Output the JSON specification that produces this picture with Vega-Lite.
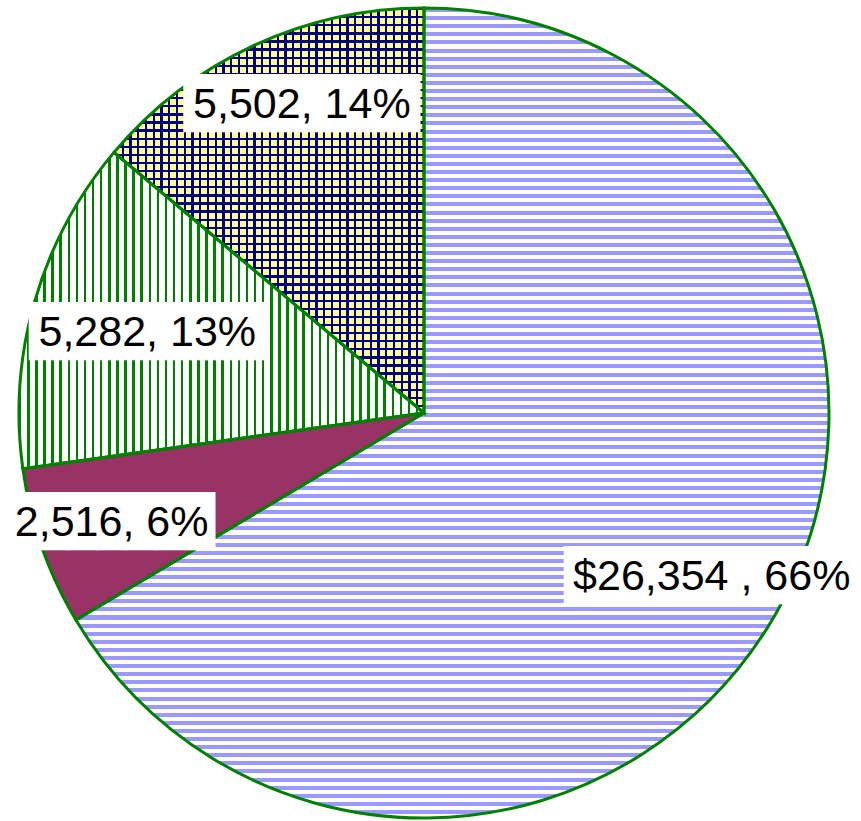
{
"$schema": "https://vega.github.io/schema/vega-lite/v6.json",
"width": 848,
"height": 816,
"padding": {"left": 0, "top": 5, "right": 13, "bottom": 0},
"autosize": {"type": "none"},
"background": "white",
"view": {"stroke": null},
"data": {"values": [
{"label": "$26,354 , 66%", "value": 26354, "rank": 1},
{"label": "2,516, 6%", "value": 2516, "rank": 2},
{"label": "5,282, 13%", "value": 5282, "rank": 3},
{"label": "5,502, 14%", "value": 5502, "rank": 4}
]},
"encoding": {
"theta": {"field": "value", "type": "quantitative", "stack": true},
"order": {"field": "rank", "type": "quantitative"}
},
"layer": [
{"mark": {"type": "arc", "outerRadius": 405, "strokeWidth": 0},
"encoding": {"fill": {"condition": [
{"test": "datum.rank===1", "value": {"gradient": "linear", "x1": 0, "y1": 0, "x2": 0, "y2": 1, "stops": [
{"offset":0,"color":"#99f"},{"offset":0.005,"color":"#99f"},{"offset":0.005,"color":"#fff"},{"offset":0.01,"color":"#fff"},
{"offset":0.01,"color":"#99f"},{"offset":0.015,"color":"#99f"},{"offset":0.015,"color":"#fff"},{"offset":0.02,"color":"#fff"},
{"offset":0.02,"color":"#99f"},{"offset":0.025,"color":"#99f"},{"offset":0.025,"color":"#fff"},{"offset":0.03,"color":"#fff"},
{"offset":0.03,"color":"#99f"},{"offset":0.035,"color":"#99f"},{"offset":0.035,"color":"#fff"},{"offset":0.04,"color":"#fff"},
{"offset":0.04,"color":"#99f"},{"offset":0.045,"color":"#99f"},{"offset":0.045,"color":"#fff"},{"offset":0.05,"color":"#fff"},
{"offset":0.05,"color":"#99f"},{"offset":0.055,"color":"#99f"},{"offset":0.055,"color":"#fff"},{"offset":0.06,"color":"#fff"},
{"offset":0.06,"color":"#99f"},{"offset":0.065,"color":"#99f"},{"offset":0.065,"color":"#fff"},{"offset":0.07,"color":"#fff"},
{"offset":0.07,"color":"#99f"},{"offset":0.075,"color":"#99f"},{"offset":0.075,"color":"#fff"},{"offset":0.08,"color":"#fff"},
{"offset":0.08,"color":"#99f"},{"offset":0.085,"color":"#99f"},{"offset":0.085,"color":"#fff"},{"offset":0.09,"color":"#fff"},
{"offset":0.09,"color":"#99f"},{"offset":0.095,"color":"#99f"},{"offset":0.095,"color":"#fff"},{"offset":0.1,"color":"#fff"},
{"offset":0.1,"color":"#99f"},{"offset":0.105,"color":"#99f"},{"offset":0.105,"color":"#fff"},{"offset":0.11,"color":"#fff"},
{"offset":0.11,"color":"#99f"},{"offset":0.115,"color":"#99f"},{"offset":0.115,"color":"#fff"},{"offset":0.12,"color":"#fff"},
{"offset":0.12,"color":"#99f"},{"offset":0.125,"color":"#99f"},{"offset":0.125,"color":"#fff"},{"offset":0.13,"color":"#fff"},
{"offset":0.13,"color":"#99f"},{"offset":0.135,"color":"#99f"},{"offset":0.135,"color":"#fff"},{"offset":0.14,"color":"#fff"},
{"offset":0.14,"color":"#99f"},{"offset":0.145,"color":"#99f"},{"offset":0.145,"color":"#fff"},{"offset":0.15,"color":"#fff"},
{"offset":0.15,"color":"#99f"},{"offset":0.155,"color":"#99f"},{"offset":0.155,"color":"#fff"},{"offset":0.16,"color":"#fff"},
{"offset":0.16,"color":"#99f"},{"offset":0.165,"color":"#99f"},{"offset":0.165,"color":"#fff"},{"offset":0.17,"color":"#fff"},
{"offset":0.17,"color":"#99f"},{"offset":0.175,"color":"#99f"},{"offset":0.175,"color":"#fff"},{"offset":0.18,"color":"#fff"},
{"offset":0.18,"color":"#99f"},{"offset":0.185,"color":"#99f"},{"offset":0.185,"color":"#fff"},{"offset":0.19,"color":"#fff"},
{"offset":0.19,"color":"#99f"},{"offset":0.195,"color":"#99f"},{"offset":0.195,"color":"#fff"},{"offset":0.2,"color":"#fff"},
{"offset":0.2,"color":"#99f"},{"offset":0.205,"color":"#99f"},{"offset":0.205,"color":"#fff"},{"offset":0.21,"color":"#fff"},
{"offset":0.21,"color":"#99f"},{"offset":0.215,"color":"#99f"},{"offset":0.215,"color":"#fff"},{"offset":0.22,"color":"#fff"},
{"offset":0.22,"color":"#99f"},{"offset":0.225,"color":"#99f"},{"offset":0.225,"color":"#fff"},{"offset":0.23,"color":"#fff"},
{"offset":0.23,"color":"#99f"},{"offset":0.235,"color":"#99f"},{"offset":0.235,"color":"#fff"},{"offset":0.24,"color":"#fff"},
{"offset":0.24,"color":"#99f"},{"offset":0.245,"color":"#99f"},{"offset":0.245,"color":"#fff"},{"offset":0.25,"color":"#fff"},
{"offset":0.25,"color":"#99f"},{"offset":0.255,"color":"#99f"},{"offset":0.255,"color":"#fff"},{"offset":0.26,"color":"#fff"},
{"offset":0.26,"color":"#99f"},{"offset":0.265,"color":"#99f"},{"offset":0.265,"color":"#fff"},{"offset":0.27,"color":"#fff"},
{"offset":0.27,"color":"#99f"},{"offset":0.275,"color":"#99f"},{"offset":0.275,"color":"#fff"},{"offset":0.28,"color":"#fff"},
{"offset":0.28,"color":"#99f"},{"offset":0.285,"color":"#99f"},{"offset":0.285,"color":"#fff"},{"offset":0.29,"color":"#fff"},
{"offset":0.29,"color":"#99f"},{"offset":0.295,"color":"#99f"},{"offset":0.295,"color":"#fff"},{"offset":0.3,"color":"#fff"},
{"offset":0.3,"color":"#99f"},{"offset":0.305,"color":"#99f"},{"offset":0.305,"color":"#fff"},{"offset":0.31,"color":"#fff"},
{"offset":0.31,"color":"#99f"},{"offset":0.315,"color":"#99f"},{"offset":0.315,"color":"#fff"},{"offset":0.32,"color":"#fff"},
{"offset":0.32,"color":"#99f"},{"offset":0.325,"color":"#99f"},{"offset":0.325,"color":"#fff"},{"offset":0.33,"color":"#fff"},
{"offset":0.33,"color":"#99f"},{"offset":0.335,"color":"#99f"},{"offset":0.335,"color":"#fff"},{"offset":0.34,"color":"#fff"},
{"offset":0.34,"color":"#99f"},{"offset":0.345,"color":"#99f"},{"offset":0.345,"color":"#fff"},{"offset":0.35,"color":"#fff"},
{"offset":0.35,"color":"#99f"},{"offset":0.355,"color":"#99f"},{"offset":0.355,"color":"#fff"},{"offset":0.36,"color":"#fff"},
{"offset":0.36,"color":"#99f"},{"offset":0.365,"color":"#99f"},{"offset":0.365,"color":"#fff"},{"offset":0.37,"color":"#fff"},
{"offset":0.37,"color":"#99f"},{"offset":0.375,"color":"#99f"},{"offset":0.375,"color":"#fff"},{"offset":0.38,"color":"#fff"},
{"offset":0.38,"color":"#99f"},{"offset":0.385,"color":"#99f"},{"offset":0.385,"color":"#fff"},{"offset":0.39,"color":"#fff"},
{"offset":0.39,"color":"#99f"},{"offset":0.395,"color":"#99f"},{"offset":0.395,"color":"#fff"},{"offset":0.4,"color":"#fff"},
{"offset":0.4,"color":"#99f"},{"offset":0.405,"color":"#99f"},{"offset":0.405,"color":"#fff"},{"offset":0.41,"color":"#fff"},
{"offset":0.41,"color":"#99f"},{"offset":0.415,"color":"#99f"},{"offset":0.415,"color":"#fff"},{"offset":0.42,"color":"#fff"},
{"offset":0.42,"color":"#99f"},{"offset":0.425,"color":"#99f"},{"offset":0.425,"color":"#fff"},{"offset":0.43,"color":"#fff"},
{"offset":0.43,"color":"#99f"},{"offset":0.435,"color":"#99f"},{"offset":0.435,"color":"#fff"},{"offset":0.44,"color":"#fff"},
{"offset":0.44,"color":"#99f"},{"offset":0.445,"color":"#99f"},{"offset":0.445,"color":"#fff"},{"offset":0.45,"color":"#fff"},
{"offset":0.45,"color":"#99f"},{"offset":0.455,"color":"#99f"},{"offset":0.455,"color":"#fff"},{"offset":0.46,"color":"#fff"},
{"offset":0.46,"color":"#99f"},{"offset":0.465,"color":"#99f"},{"offset":0.465,"color":"#fff"},{"offset":0.47,"color":"#fff"},
{"offset":0.47,"color":"#99f"},{"offset":0.475,"color":"#99f"},{"offset":0.475,"color":"#fff"},{"offset":0.48,"color":"#fff"},
{"offset":0.48,"color":"#99f"},{"offset":0.485,"color":"#99f"},{"offset":0.485,"color":"#fff"},{"offset":0.49,"color":"#fff"},
{"offset":0.49,"color":"#99f"},{"offset":0.495,"color":"#99f"},{"offset":0.495,"color":"#fff"},{"offset":0.5,"color":"#fff"},
{"offset":0.5,"color":"#99f"},{"offset":0.505,"color":"#99f"},{"offset":0.505,"color":"#fff"},{"offset":0.51,"color":"#fff"},
{"offset":0.51,"color":"#99f"},{"offset":0.515,"color":"#99f"},{"offset":0.515,"color":"#fff"},{"offset":0.52,"color":"#fff"},
{"offset":0.52,"color":"#99f"},{"offset":0.525,"color":"#99f"},{"offset":0.525,"color":"#fff"},{"offset":0.53,"color":"#fff"},
{"offset":0.53,"color":"#99f"},{"offset":0.535,"color":"#99f"},{"offset":0.535,"color":"#fff"},{"offset":0.54,"color":"#fff"},
{"offset":0.54,"color":"#99f"},{"offset":0.545,"color":"#99f"},{"offset":0.545,"color":"#fff"},{"offset":0.55,"color":"#fff"},
{"offset":0.55,"color":"#99f"},{"offset":0.555,"color":"#99f"},{"offset":0.555,"color":"#fff"},{"offset":0.56,"color":"#fff"},
{"offset":0.56,"color":"#99f"},{"offset":0.565,"color":"#99f"},{"offset":0.565,"color":"#fff"},{"offset":0.57,"color":"#fff"},
{"offset":0.57,"color":"#99f"},{"offset":0.575,"color":"#99f"},{"offset":0.575,"color":"#fff"},{"offset":0.58,"color":"#fff"},
{"offset":0.58,"color":"#99f"},{"offset":0.585,"color":"#99f"},{"offset":0.585,"color":"#fff"},{"offset":0.59,"color":"#fff"},
{"offset":0.59,"color":"#99f"},{"offset":0.595,"color":"#99f"},{"offset":0.595,"color":"#fff"},{"offset":0.6,"color":"#fff"},
{"offset":0.6,"color":"#99f"},{"offset":0.605,"color":"#99f"},{"offset":0.605,"color":"#fff"},{"offset":0.61,"color":"#fff"},
{"offset":0.61,"color":"#99f"},{"offset":0.615,"color":"#99f"},{"offset":0.615,"color":"#fff"},{"offset":0.62,"color":"#fff"},
{"offset":0.62,"color":"#99f"},{"offset":0.625,"color":"#99f"},{"offset":0.625,"color":"#fff"},{"offset":0.63,"color":"#fff"},
{"offset":0.63,"color":"#99f"},{"offset":0.635,"color":"#99f"},{"offset":0.635,"color":"#fff"},{"offset":0.64,"color":"#fff"},
{"offset":0.64,"color":"#99f"},{"offset":0.645,"color":"#99f"},{"offset":0.645,"color":"#fff"},{"offset":0.65,"color":"#fff"},
{"offset":0.65,"color":"#99f"},{"offset":0.655,"color":"#99f"},{"offset":0.655,"color":"#fff"},{"offset":0.66,"color":"#fff"},
{"offset":0.66,"color":"#99f"},{"offset":0.665,"color":"#99f"},{"offset":0.665,"color":"#fff"},{"offset":0.67,"color":"#fff"},
{"offset":0.67,"color":"#99f"},{"offset":0.675,"color":"#99f"},{"offset":0.675,"color":"#fff"},{"offset":0.68,"color":"#fff"},
{"offset":0.68,"color":"#99f"},{"offset":0.685,"color":"#99f"},{"offset":0.685,"color":"#fff"},{"offset":0.69,"color":"#fff"},
{"offset":0.69,"color":"#99f"},{"offset":0.695,"color":"#99f"},{"offset":0.695,"color":"#fff"},{"offset":0.7,"color":"#fff"},
{"offset":0.7,"color":"#99f"},{"offset":0.705,"color":"#99f"},{"offset":0.705,"color":"#fff"},{"offset":0.71,"color":"#fff"},
{"offset":0.71,"color":"#99f"},{"offset":0.715,"color":"#99f"},{"offset":0.715,"color":"#fff"},{"offset":0.72,"color":"#fff"},
{"offset":0.72,"color":"#99f"},{"offset":0.725,"color":"#99f"},{"offset":0.725,"color":"#fff"},{"offset":0.73,"color":"#fff"},
{"offset":0.73,"color":"#99f"},{"offset":0.735,"color":"#99f"},{"offset":0.735,"color":"#fff"},{"offset":0.74,"color":"#fff"},
{"offset":0.74,"color":"#99f"},{"offset":0.745,"color":"#99f"},{"offset":0.745,"color":"#fff"},{"offset":0.75,"color":"#fff"},
{"offset":0.75,"color":"#99f"},{"offset":0.755,"color":"#99f"},{"offset":0.755,"color":"#fff"},{"offset":0.76,"color":"#fff"},
{"offset":0.76,"color":"#99f"},{"offset":0.765,"color":"#99f"},{"offset":0.765,"color":"#fff"},{"offset":0.77,"color":"#fff"},
{"offset":0.77,"color":"#99f"},{"offset":0.775,"color":"#99f"},{"offset":0.775,"color":"#fff"},{"offset":0.78,"color":"#fff"},
{"offset":0.78,"color":"#99f"},{"offset":0.785,"color":"#99f"},{"offset":0.785,"color":"#fff"},{"offset":0.79,"color":"#fff"},
{"offset":0.79,"color":"#99f"},{"offset":0.795,"color":"#99f"},{"offset":0.795,"color":"#fff"},{"offset":0.8,"color":"#fff"},
{"offset":0.8,"color":"#99f"},{"offset":0.805,"color":"#99f"},{"offset":0.805,"color":"#fff"},{"offset":0.81,"color":"#fff"},
{"offset":0.81,"color":"#99f"},{"offset":0.815,"color":"#99f"},{"offset":0.815,"color":"#fff"},{"offset":0.82,"color":"#fff"},
{"offset":0.82,"color":"#99f"},{"offset":0.825,"color":"#99f"},{"offset":0.825,"color":"#fff"},{"offset":0.83,"color":"#fff"},
{"offset":0.83,"color":"#99f"},{"offset":0.835,"color":"#99f"},{"offset":0.835,"color":"#fff"},{"offset":0.84,"color":"#fff"},
{"offset":0.84,"color":"#99f"},{"offset":0.845,"color":"#99f"},{"offset":0.845,"color":"#fff"},{"offset":0.85,"color":"#fff"},
{"offset":0.85,"color":"#99f"},{"offset":0.855,"color":"#99f"},{"offset":0.855,"color":"#fff"},{"offset":0.86,"color":"#fff"},
{"offset":0.86,"color":"#99f"},{"offset":0.865,"color":"#99f"},{"offset":0.865,"color":"#fff"},{"offset":0.87,"color":"#fff"},
{"offset":0.87,"color":"#99f"},{"offset":0.875,"color":"#99f"},{"offset":0.875,"color":"#fff"},{"offset":0.88,"color":"#fff"},
{"offset":0.88,"color":"#99f"},{"offset":0.885,"color":"#99f"},{"offset":0.885,"color":"#fff"},{"offset":0.89,"color":"#fff"},
{"offset":0.89,"color":"#99f"},{"offset":0.895,"color":"#99f"},{"offset":0.895,"color":"#fff"},{"offset":0.9,"color":"#fff"},
{"offset":0.9,"color":"#99f"},{"offset":0.905,"color":"#99f"},{"offset":0.905,"color":"#fff"},{"offset":0.91,"color":"#fff"},
{"offset":0.91,"color":"#99f"},{"offset":0.915,"color":"#99f"},{"offset":0.915,"color":"#fff"},{"offset":0.92,"color":"#fff"},
{"offset":0.92,"color":"#99f"},{"offset":0.925,"color":"#99f"},{"offset":0.925,"color":"#fff"},{"offset":0.93,"color":"#fff"},
{"offset":0.93,"color":"#99f"},{"offset":0.935,"color":"#99f"},{"offset":0.935,"color":"#fff"},{"offset":0.94,"color":"#fff"},
{"offset":0.94,"color":"#99f"},{"offset":0.945,"color":"#99f"},{"offset":0.945,"color":"#fff"},{"offset":0.95,"color":"#fff"},
{"offset":0.95,"color":"#99f"},{"offset":0.955,"color":"#99f"},{"offset":0.955,"color":"#fff"},{"offset":0.96,"color":"#fff"},
{"offset":0.96,"color":"#99f"},{"offset":0.965,"color":"#99f"},{"offset":0.965,"color":"#fff"},{"offset":0.97,"color":"#fff"},
{"offset":0.97,"color":"#99f"},{"offset":0.975,"color":"#99f"},{"offset":0.975,"color":"#fff"},{"offset":0.98,"color":"#fff"},
{"offset":0.98,"color":"#99f"},{"offset":0.985,"color":"#99f"},{"offset":0.985,"color":"#fff"},{"offset":0.99,"color":"#fff"},
{"offset":0.99,"color":"#99f"},{"offset":0.995,"color":"#99f"},{"offset":0.995,"color":"#fff"},{"offset":1,"color":"#fff"}
]}},
{"test": "datum.rank===3", "value": {"gradient": "linear", "x1": 0, "y1": 0, "x2": 1, "y2": 0, "stops": [
{"offset":0,"color":"#008000"},{"offset":0.006,"color":"#008000"},{"offset":0.006,"color":"#fff"},{"offset":0.02,"color":"#fff"},
{"offset":0.02,"color":"#008000"},{"offset":0.026,"color":"#008000"},{"offset":0.026,"color":"#fff"},{"offset":0.04,"color":"#fff"},
{"offset":0.04,"color":"#008000"},{"offset":0.046,"color":"#008000"},{"offset":0.046,"color":"#fff"},{"offset":0.06,"color":"#fff"},
{"offset":0.06,"color":"#008000"},{"offset":0.066,"color":"#008000"},{"offset":0.066,"color":"#fff"},{"offset":0.08,"color":"#fff"},
{"offset":0.08,"color":"#008000"},{"offset":0.086,"color":"#008000"},{"offset":0.086,"color":"#fff"},{"offset":0.1,"color":"#fff"},
{"offset":0.1,"color":"#008000"},{"offset":0.106,"color":"#008000"},{"offset":0.106,"color":"#fff"},{"offset":0.12,"color":"#fff"},
{"offset":0.12,"color":"#008000"},{"offset":0.126,"color":"#008000"},{"offset":0.126,"color":"#fff"},{"offset":0.14,"color":"#fff"},
{"offset":0.14,"color":"#008000"},{"offset":0.146,"color":"#008000"},{"offset":0.146,"color":"#fff"},{"offset":0.16,"color":"#fff"},
{"offset":0.16,"color":"#008000"},{"offset":0.166,"color":"#008000"},{"offset":0.166,"color":"#fff"},{"offset":0.18,"color":"#fff"},
{"offset":0.18,"color":"#008000"},{"offset":0.186,"color":"#008000"},{"offset":0.186,"color":"#fff"},{"offset":0.2,"color":"#fff"},
{"offset":0.2,"color":"#008000"},{"offset":0.206,"color":"#008000"},{"offset":0.206,"color":"#fff"},{"offset":0.22,"color":"#fff"},
{"offset":0.22,"color":"#008000"},{"offset":0.226,"color":"#008000"},{"offset":0.226,"color":"#fff"},{"offset":0.24,"color":"#fff"},
{"offset":0.24,"color":"#008000"},{"offset":0.246,"color":"#008000"},{"offset":0.246,"color":"#fff"},{"offset":0.26,"color":"#fff"},
{"offset":0.26,"color":"#008000"},{"offset":0.266,"color":"#008000"},{"offset":0.266,"color":"#fff"},{"offset":0.28,"color":"#fff"},
{"offset":0.28,"color":"#008000"},{"offset":0.286,"color":"#008000"},{"offset":0.286,"color":"#fff"},{"offset":0.3,"color":"#fff"},
{"offset":0.3,"color":"#008000"},{"offset":0.306,"color":"#008000"},{"offset":0.306,"color":"#fff"},{"offset":0.32,"color":"#fff"},
{"offset":0.32,"color":"#008000"},{"offset":0.326,"color":"#008000"},{"offset":0.326,"color":"#fff"},{"offset":0.34,"color":"#fff"},
{"offset":0.34,"color":"#008000"},{"offset":0.346,"color":"#008000"},{"offset":0.346,"color":"#fff"},{"offset":0.36,"color":"#fff"},
{"offset":0.36,"color":"#008000"},{"offset":0.366,"color":"#008000"},{"offset":0.366,"color":"#fff"},{"offset":0.38,"color":"#fff"},
{"offset":0.38,"color":"#008000"},{"offset":0.386,"color":"#008000"},{"offset":0.386,"color":"#fff"},{"offset":0.4,"color":"#fff"},
{"offset":0.4,"color":"#008000"},{"offset":0.406,"color":"#008000"},{"offset":0.406,"color":"#fff"},{"offset":0.42,"color":"#fff"},
{"offset":0.42,"color":"#008000"},{"offset":0.426,"color":"#008000"},{"offset":0.426,"color":"#fff"},{"offset":0.44,"color":"#fff"},
{"offset":0.44,"color":"#008000"},{"offset":0.446,"color":"#008000"},{"offset":0.446,"color":"#fff"},{"offset":0.46,"color":"#fff"},
{"offset":0.46,"color":"#008000"},{"offset":0.466,"color":"#008000"},{"offset":0.466,"color":"#fff"},{"offset":0.48,"color":"#fff"},
{"offset":0.48,"color":"#008000"},{"offset":0.486,"color":"#008000"},{"offset":0.486,"color":"#fff"},{"offset":0.5,"color":"#fff"},
{"offset":0.5,"color":"#008000"},{"offset":0.506,"color":"#008000"},{"offset":0.506,"color":"#fff"},{"offset":0.52,"color":"#fff"},
{"offset":0.52,"color":"#008000"},{"offset":0.526,"color":"#008000"},{"offset":0.526,"color":"#fff"},{"offset":0.54,"color":"#fff"},
{"offset":0.54,"color":"#008000"},{"offset":0.546,"color":"#008000"},{"offset":0.546,"color":"#fff"},{"offset":0.56,"color":"#fff"},
{"offset":0.56,"color":"#008000"},{"offset":0.566,"color":"#008000"},{"offset":0.566,"color":"#fff"},{"offset":0.58,"color":"#fff"},
{"offset":0.58,"color":"#008000"},{"offset":0.586,"color":"#008000"},{"offset":0.586,"color":"#fff"},{"offset":0.6,"color":"#fff"},
{"offset":0.6,"color":"#008000"},{"offset":0.606,"color":"#008000"},{"offset":0.606,"color":"#fff"},{"offset":0.62,"color":"#fff"},
{"offset":0.62,"color":"#008000"},{"offset":0.626,"color":"#008000"},{"offset":0.626,"color":"#fff"},{"offset":0.64,"color":"#fff"},
{"offset":0.64,"color":"#008000"},{"offset":0.646,"color":"#008000"},{"offset":0.646,"color":"#fff"},{"offset":0.66,"color":"#fff"},
{"offset":0.66,"color":"#008000"},{"offset":0.666,"color":"#008000"},{"offset":0.666,"color":"#fff"},{"offset":0.68,"color":"#fff"},
{"offset":0.68,"color":"#008000"},{"offset":0.686,"color":"#008000"},{"offset":0.686,"color":"#fff"},{"offset":0.7,"color":"#fff"},
{"offset":0.7,"color":"#008000"},{"offset":0.706,"color":"#008000"},{"offset":0.706,"color":"#fff"},{"offset":0.72,"color":"#fff"},
{"offset":0.72,"color":"#008000"},{"offset":0.726,"color":"#008000"},{"offset":0.726,"color":"#fff"},{"offset":0.74,"color":"#fff"},
{"offset":0.74,"color":"#008000"},{"offset":0.746,"color":"#008000"},{"offset":0.746,"color":"#fff"},{"offset":0.76,"color":"#fff"},
{"offset":0.76,"color":"#008000"},{"offset":0.766,"color":"#008000"},{"offset":0.766,"color":"#fff"},{"offset":0.78,"color":"#fff"},
{"offset":0.78,"color":"#008000"},{"offset":0.786,"color":"#008000"},{"offset":0.786,"color":"#fff"},{"offset":0.8,"color":"#fff"},
{"offset":0.8,"color":"#008000"},{"offset":0.806,"color":"#008000"},{"offset":0.806,"color":"#fff"},{"offset":0.82,"color":"#fff"},
{"offset":0.82,"color":"#008000"},{"offset":0.826,"color":"#008000"},{"offset":0.826,"color":"#fff"},{"offset":0.84,"color":"#fff"},
{"offset":0.84,"color":"#008000"},{"offset":0.846,"color":"#008000"},{"offset":0.846,"color":"#fff"},{"offset":0.86,"color":"#fff"},
{"offset":0.86,"color":"#008000"},{"offset":0.866,"color":"#008000"},{"offset":0.866,"color":"#fff"},{"offset":0.88,"color":"#fff"},
{"offset":0.88,"color":"#008000"},{"offset":0.886,"color":"#008000"},{"offset":0.886,"color":"#fff"},{"offset":0.9,"color":"#fff"},
{"offset":0.9,"color":"#008000"},{"offset":0.906,"color":"#008000"},{"offset":0.906,"color":"#fff"},{"offset":0.92,"color":"#fff"},
{"offset":0.92,"color":"#008000"},{"offset":0.926,"color":"#008000"},{"offset":0.926,"color":"#fff"},{"offset":0.94,"color":"#fff"},
{"offset":0.94,"color":"#008000"},{"offset":0.946,"color":"#008000"},{"offset":0.946,"color":"#fff"},{"offset":0.96,"color":"#fff"},
{"offset":0.96,"color":"#008000"},{"offset":0.966,"color":"#008000"},{"offset":0.966,"color":"#fff"},{"offset":0.98,"color":"#fff"},
{"offset":0.98,"color":"#008000"},{"offset":0.986,"color":"#008000"},{"offset":0.986,"color":"#fff"},{"offset":1,"color":"#fff"}
]}},
{"test": "datum.rank===4", "value": {"gradient": "linear", "x1": 0, "y1": 0, "x2": 1, "y2": 0, "stops": [
{"offset":0,"color":"#000080"},{"offset":0.007,"color":"#000080"},{"offset":0.007,"color":"#ff9"},{"offset":0.025,"color":"#ff9"},
{"offset":0.025,"color":"#000080"},{"offset":0.032,"color":"#000080"},{"offset":0.032,"color":"#ff9"},{"offset":0.05,"color":"#ff9"},
{"offset":0.05,"color":"#000080"},{"offset":0.057,"color":"#000080"},{"offset":0.057,"color":"#ff9"},{"offset":0.075,"color":"#ff9"},
{"offset":0.075,"color":"#000080"},{"offset":0.082,"color":"#000080"},{"offset":0.082,"color":"#ff9"},{"offset":0.1,"color":"#ff9"},
{"offset":0.1,"color":"#000080"},{"offset":0.107,"color":"#000080"},{"offset":0.107,"color":"#ff9"},{"offset":0.125,"color":"#ff9"},
{"offset":0.125,"color":"#000080"},{"offset":0.132,"color":"#000080"},{"offset":0.132,"color":"#ff9"},{"offset":0.15,"color":"#ff9"},
{"offset":0.15,"color":"#000080"},{"offset":0.157,"color":"#000080"},{"offset":0.157,"color":"#ff9"},{"offset":0.175,"color":"#ff9"},
{"offset":0.175,"color":"#000080"},{"offset":0.182,"color":"#000080"},{"offset":0.182,"color":"#ff9"},{"offset":0.2,"color":"#ff9"},
{"offset":0.2,"color":"#000080"},{"offset":0.207,"color":"#000080"},{"offset":0.207,"color":"#ff9"},{"offset":0.225,"color":"#ff9"},
{"offset":0.225,"color":"#000080"},{"offset":0.232,"color":"#000080"},{"offset":0.232,"color":"#ff9"},{"offset":0.25,"color":"#ff9"},
{"offset":0.25,"color":"#000080"},{"offset":0.257,"color":"#000080"},{"offset":0.257,"color":"#ff9"},{"offset":0.275,"color":"#ff9"},
{"offset":0.275,"color":"#000080"},{"offset":0.282,"color":"#000080"},{"offset":0.282,"color":"#ff9"},{"offset":0.3,"color":"#ff9"},
{"offset":0.3,"color":"#000080"},{"offset":0.307,"color":"#000080"},{"offset":0.307,"color":"#ff9"},{"offset":0.325,"color":"#ff9"},
{"offset":0.325,"color":"#000080"},{"offset":0.332,"color":"#000080"},{"offset":0.332,"color":"#ff9"},{"offset":0.35,"color":"#ff9"},
{"offset":0.35,"color":"#000080"},{"offset":0.357,"color":"#000080"},{"offset":0.357,"color":"#ff9"},{"offset":0.375,"color":"#ff9"},
{"offset":0.375,"color":"#000080"},{"offset":0.382,"color":"#000080"},{"offset":0.382,"color":"#ff9"},{"offset":0.4,"color":"#ff9"},
{"offset":0.4,"color":"#000080"},{"offset":0.407,"color":"#000080"},{"offset":0.407,"color":"#ff9"},{"offset":0.425,"color":"#ff9"},
{"offset":0.425,"color":"#000080"},{"offset":0.432,"color":"#000080"},{"offset":0.432,"color":"#ff9"},{"offset":0.45,"color":"#ff9"},
{"offset":0.45,"color":"#000080"},{"offset":0.457,"color":"#000080"},{"offset":0.457,"color":"#ff9"},{"offset":0.475,"color":"#ff9"},
{"offset":0.475,"color":"#000080"},{"offset":0.482,"color":"#000080"},{"offset":0.482,"color":"#ff9"},{"offset":0.5,"color":"#ff9"},
{"offset":0.5,"color":"#000080"},{"offset":0.507,"color":"#000080"},{"offset":0.507,"color":"#ff9"},{"offset":0.525,"color":"#ff9"},
{"offset":0.525,"color":"#000080"},{"offset":0.532,"color":"#000080"},{"offset":0.532,"color":"#ff9"},{"offset":0.55,"color":"#ff9"},
{"offset":0.55,"color":"#000080"},{"offset":0.557,"color":"#000080"},{"offset":0.557,"color":"#ff9"},{"offset":0.575,"color":"#ff9"},
{"offset":0.575,"color":"#000080"},{"offset":0.582,"color":"#000080"},{"offset":0.582,"color":"#ff9"},{"offset":0.6,"color":"#ff9"},
{"offset":0.6,"color":"#000080"},{"offset":0.607,"color":"#000080"},{"offset":0.607,"color":"#ff9"},{"offset":0.625,"color":"#ff9"},
{"offset":0.625,"color":"#000080"},{"offset":0.632,"color":"#000080"},{"offset":0.632,"color":"#ff9"},{"offset":0.65,"color":"#ff9"},
{"offset":0.65,"color":"#000080"},{"offset":0.657,"color":"#000080"},{"offset":0.657,"color":"#ff9"},{"offset":0.675,"color":"#ff9"},
{"offset":0.675,"color":"#000080"},{"offset":0.682,"color":"#000080"},{"offset":0.682,"color":"#ff9"},{"offset":0.7,"color":"#ff9"},
{"offset":0.7,"color":"#000080"},{"offset":0.707,"color":"#000080"},{"offset":0.707,"color":"#ff9"},{"offset":0.725,"color":"#ff9"},
{"offset":0.725,"color":"#000080"},{"offset":0.732,"color":"#000080"},{"offset":0.732,"color":"#ff9"},{"offset":0.75,"color":"#ff9"},
{"offset":0.75,"color":"#000080"},{"offset":0.757,"color":"#000080"},{"offset":0.757,"color":"#ff9"},{"offset":0.775,"color":"#ff9"},
{"offset":0.775,"color":"#000080"},{"offset":0.782,"color":"#000080"},{"offset":0.782,"color":"#ff9"},{"offset":0.8,"color":"#ff9"},
{"offset":0.8,"color":"#000080"},{"offset":0.807,"color":"#000080"},{"offset":0.807,"color":"#ff9"},{"offset":0.825,"color":"#ff9"},
{"offset":0.825,"color":"#000080"},{"offset":0.832,"color":"#000080"},{"offset":0.832,"color":"#ff9"},{"offset":0.85,"color":"#ff9"},
{"offset":0.85,"color":"#000080"},{"offset":0.857,"color":"#000080"},{"offset":0.857,"color":"#ff9"},{"offset":0.875,"color":"#ff9"},
{"offset":0.875,"color":"#000080"},{"offset":0.882,"color":"#000080"},{"offset":0.882,"color":"#ff9"},{"offset":0.9,"color":"#ff9"},
{"offset":0.9,"color":"#000080"},{"offset":0.907,"color":"#000080"},{"offset":0.907,"color":"#ff9"},{"offset":0.925,"color":"#ff9"},
{"offset":0.925,"color":"#000080"},{"offset":0.932,"color":"#000080"},{"offset":0.932,"color":"#ff9"},{"offset":0.95,"color":"#ff9"},
{"offset":0.95,"color":"#000080"},{"offset":0.957,"color":"#000080"},{"offset":0.957,"color":"#ff9"},{"offset":0.975,"color":"#ff9"},
{"offset":0.975,"color":"#000080"},{"offset":0.982,"color":"#000080"},{"offset":0.982,"color":"#ff9"},{"offset":1,"color":"#ff9"}
]}}
], "value": "#993366"}}},
{"mark": {"type": "arc", "outerRadius": 405, "stroke": "#008000", "strokeWidth": 3},
"encoding": {"fill": {"condition": [
{"test": "datum.rank===4", "value": {"gradient": "linear", "x1": 0, "y1": 0, "x2": 0, "y2": 1, "stops": [
{"offset":0,"color":"#000080"},{"offset":0.0055,"color":"#000080"},{"offset":0.0055,"color":"rgba(0,0,128,0)"},{"offset":0.02,"color":"rgba(0,0,128,0)"},
{"offset":0.02,"color":"#000080"},{"offset":0.0255,"color":"#000080"},{"offset":0.0255,"color":"rgba(0,0,128,0)"},{"offset":0.04,"color":"rgba(0,0,128,0)"},
{"offset":0.04,"color":"#000080"},{"offset":0.0455,"color":"#000080"},{"offset":0.0455,"color":"rgba(0,0,128,0)"},{"offset":0.06,"color":"rgba(0,0,128,0)"},
{"offset":0.06,"color":"#000080"},{"offset":0.0655,"color":"#000080"},{"offset":0.0655,"color":"rgba(0,0,128,0)"},{"offset":0.08,"color":"rgba(0,0,128,0)"},
{"offset":0.08,"color":"#000080"},{"offset":0.0855,"color":"#000080"},{"offset":0.0855,"color":"rgba(0,0,128,0)"},{"offset":0.1,"color":"rgba(0,0,128,0)"},
{"offset":0.1,"color":"#000080"},{"offset":0.1055,"color":"#000080"},{"offset":0.1055,"color":"rgba(0,0,128,0)"},{"offset":0.12,"color":"rgba(0,0,128,0)"},
{"offset":0.12,"color":"#000080"},{"offset":0.1255,"color":"#000080"},{"offset":0.1255,"color":"rgba(0,0,128,0)"},{"offset":0.14,"color":"rgba(0,0,128,0)"},
{"offset":0.14,"color":"#000080"},{"offset":0.1455,"color":"#000080"},{"offset":0.1455,"color":"rgba(0,0,128,0)"},{"offset":0.16,"color":"rgba(0,0,128,0)"},
{"offset":0.16,"color":"#000080"},{"offset":0.1655,"color":"#000080"},{"offset":0.1655,"color":"rgba(0,0,128,0)"},{"offset":0.18,"color":"rgba(0,0,128,0)"},
{"offset":0.18,"color":"#000080"},{"offset":0.1855,"color":"#000080"},{"offset":0.1855,"color":"rgba(0,0,128,0)"},{"offset":0.2,"color":"rgba(0,0,128,0)"},
{"offset":0.2,"color":"#000080"},{"offset":0.2055,"color":"#000080"},{"offset":0.2055,"color":"rgba(0,0,128,0)"},{"offset":0.22,"color":"rgba(0,0,128,0)"},
{"offset":0.22,"color":"#000080"},{"offset":0.2255,"color":"#000080"},{"offset":0.2255,"color":"rgba(0,0,128,0)"},{"offset":0.24,"color":"rgba(0,0,128,0)"},
{"offset":0.24,"color":"#000080"},{"offset":0.2455,"color":"#000080"},{"offset":0.2455,"color":"rgba(0,0,128,0)"},{"offset":0.26,"color":"rgba(0,0,128,0)"},
{"offset":0.26,"color":"#000080"},{"offset":0.2655,"color":"#000080"},{"offset":0.2655,"color":"rgba(0,0,128,0)"},{"offset":0.28,"color":"rgba(0,0,128,0)"},
{"offset":0.28,"color":"#000080"},{"offset":0.2855,"color":"#000080"},{"offset":0.2855,"color":"rgba(0,0,128,0)"},{"offset":0.3,"color":"rgba(0,0,128,0)"},
{"offset":0.3,"color":"#000080"},{"offset":0.3055,"color":"#000080"},{"offset":0.3055,"color":"rgba(0,0,128,0)"},{"offset":0.32,"color":"rgba(0,0,128,0)"},
{"offset":0.32,"color":"#000080"},{"offset":0.3255,"color":"#000080"},{"offset":0.3255,"color":"rgba(0,0,128,0)"},{"offset":0.34,"color":"rgba(0,0,128,0)"},
{"offset":0.34,"color":"#000080"},{"offset":0.3455,"color":"#000080"},{"offset":0.3455,"color":"rgba(0,0,128,0)"},{"offset":0.36,"color":"rgba(0,0,128,0)"},
{"offset":0.36,"color":"#000080"},{"offset":0.3655,"color":"#000080"},{"offset":0.3655,"color":"rgba(0,0,128,0)"},{"offset":0.38,"color":"rgba(0,0,128,0)"},
{"offset":0.38,"color":"#000080"},{"offset":0.3855,"color":"#000080"},{"offset":0.3855,"color":"rgba(0,0,128,0)"},{"offset":0.4,"color":"rgba(0,0,128,0)"},
{"offset":0.4,"color":"#000080"},{"offset":0.4055,"color":"#000080"},{"offset":0.4055,"color":"rgba(0,0,128,0)"},{"offset":0.42,"color":"rgba(0,0,128,0)"},
{"offset":0.42,"color":"#000080"},{"offset":0.4255,"color":"#000080"},{"offset":0.4255,"color":"rgba(0,0,128,0)"},{"offset":0.44,"color":"rgba(0,0,128,0)"},
{"offset":0.44,"color":"#000080"},{"offset":0.4455,"color":"#000080"},{"offset":0.4455,"color":"rgba(0,0,128,0)"},{"offset":0.46,"color":"rgba(0,0,128,0)"},
{"offset":0.46,"color":"#000080"},{"offset":0.4655,"color":"#000080"},{"offset":0.4655,"color":"rgba(0,0,128,0)"},{"offset":0.48,"color":"rgba(0,0,128,0)"},
{"offset":0.48,"color":"#000080"},{"offset":0.4855,"color":"#000080"},{"offset":0.4855,"color":"rgba(0,0,128,0)"},{"offset":0.5,"color":"rgba(0,0,128,0)"},
{"offset":0.5,"color":"#000080"},{"offset":0.5055,"color":"#000080"},{"offset":0.5055,"color":"rgba(0,0,128,0)"},{"offset":0.52,"color":"rgba(0,0,128,0)"},
{"offset":0.52,"color":"#000080"},{"offset":0.5255,"color":"#000080"},{"offset":0.5255,"color":"rgba(0,0,128,0)"},{"offset":0.54,"color":"rgba(0,0,128,0)"},
{"offset":0.54,"color":"#000080"},{"offset":0.5455,"color":"#000080"},{"offset":0.5455,"color":"rgba(0,0,128,0)"},{"offset":0.56,"color":"rgba(0,0,128,0)"},
{"offset":0.56,"color":"#000080"},{"offset":0.5655,"color":"#000080"},{"offset":0.5655,"color":"rgba(0,0,128,0)"},{"offset":0.58,"color":"rgba(0,0,128,0)"},
{"offset":0.58,"color":"#000080"},{"offset":0.5855,"color":"#000080"},{"offset":0.5855,"color":"rgba(0,0,128,0)"},{"offset":0.6,"color":"rgba(0,0,128,0)"},
{"offset":0.6,"color":"#000080"},{"offset":0.6055,"color":"#000080"},{"offset":0.6055,"color":"rgba(0,0,128,0)"},{"offset":0.62,"color":"rgba(0,0,128,0)"},
{"offset":0.62,"color":"#000080"},{"offset":0.6255,"color":"#000080"},{"offset":0.6255,"color":"rgba(0,0,128,0)"},{"offset":0.64,"color":"rgba(0,0,128,0)"},
{"offset":0.64,"color":"#000080"},{"offset":0.6455,"color":"#000080"},{"offset":0.6455,"color":"rgba(0,0,128,0)"},{"offset":0.66,"color":"rgba(0,0,128,0)"},
{"offset":0.66,"color":"#000080"},{"offset":0.6655,"color":"#000080"},{"offset":0.6655,"color":"rgba(0,0,128,0)"},{"offset":0.68,"color":"rgba(0,0,128,0)"},
{"offset":0.68,"color":"#000080"},{"offset":0.6855,"color":"#000080"},{"offset":0.6855,"color":"rgba(0,0,128,0)"},{"offset":0.7,"color":"rgba(0,0,128,0)"},
{"offset":0.7,"color":"#000080"},{"offset":0.7055,"color":"#000080"},{"offset":0.7055,"color":"rgba(0,0,128,0)"},{"offset":0.72,"color":"rgba(0,0,128,0)"},
{"offset":0.72,"color":"#000080"},{"offset":0.7255,"color":"#000080"},{"offset":0.7255,"color":"rgba(0,0,128,0)"},{"offset":0.74,"color":"rgba(0,0,128,0)"},
{"offset":0.74,"color":"#000080"},{"offset":0.7455,"color":"#000080"},{"offset":0.7455,"color":"rgba(0,0,128,0)"},{"offset":0.76,"color":"rgba(0,0,128,0)"},
{"offset":0.76,"color":"#000080"},{"offset":0.7655,"color":"#000080"},{"offset":0.7655,"color":"rgba(0,0,128,0)"},{"offset":0.78,"color":"rgba(0,0,128,0)"},
{"offset":0.78,"color":"#000080"},{"offset":0.7855,"color":"#000080"},{"offset":0.7855,"color":"rgba(0,0,128,0)"},{"offset":0.8,"color":"rgba(0,0,128,0)"},
{"offset":0.8,"color":"#000080"},{"offset":0.8055,"color":"#000080"},{"offset":0.8055,"color":"rgba(0,0,128,0)"},{"offset":0.82,"color":"rgba(0,0,128,0)"},
{"offset":0.82,"color":"#000080"},{"offset":0.8255,"color":"#000080"},{"offset":0.8255,"color":"rgba(0,0,128,0)"},{"offset":0.84,"color":"rgba(0,0,128,0)"},
{"offset":0.84,"color":"#000080"},{"offset":0.8455,"color":"#000080"},{"offset":0.8455,"color":"rgba(0,0,128,0)"},{"offset":0.86,"color":"rgba(0,0,128,0)"},
{"offset":0.86,"color":"#000080"},{"offset":0.8655,"color":"#000080"},{"offset":0.8655,"color":"rgba(0,0,128,0)"},{"offset":0.88,"color":"rgba(0,0,128,0)"},
{"offset":0.88,"color":"#000080"},{"offset":0.8855,"color":"#000080"},{"offset":0.8855,"color":"rgba(0,0,128,0)"},{"offset":0.9,"color":"rgba(0,0,128,0)"},
{"offset":0.9,"color":"#000080"},{"offset":0.9055,"color":"#000080"},{"offset":0.9055,"color":"rgba(0,0,128,0)"},{"offset":0.92,"color":"rgba(0,0,128,0)"},
{"offset":0.92,"color":"#000080"},{"offset":0.9255,"color":"#000080"},{"offset":0.9255,"color":"rgba(0,0,128,0)"},{"offset":0.94,"color":"rgba(0,0,128,0)"},
{"offset":0.94,"color":"#000080"},{"offset":0.9455,"color":"#000080"},{"offset":0.9455,"color":"rgba(0,0,128,0)"},{"offset":0.96,"color":"rgba(0,0,128,0)"},
{"offset":0.96,"color":"#000080"},{"offset":0.9655,"color":"#000080"},{"offset":0.9655,"color":"rgba(0,0,128,0)"},{"offset":0.98,"color":"rgba(0,0,128,0)"},
{"offset":0.98,"color":"#000080"},{"offset":0.9855,"color":"#000080"},{"offset":0.9855,"color":"rgba(0,0,128,0)"},{"offset":1,"color":"rgba(0,0,128,0)"}
]}}
], "value": "transparent"}}},
{"mark": {"type": "text", "radius": {"expr": "datum.rank===3 ? 288 : 331"}, "thetaOffset": {"expr": "datum.rank===4 ? 0.058 : 0"}, "font": "DejaVu Sans Mono", "fontSize": 49, "fill": "white"},
"encoding": {"text": {"condition": [{"test": "datum.rank===1", "value": "██████████"}, {"test": "datum.rank===2", "value": "███████"}], "value": "████████"}}},
{"mark": {"type": "text", "radius": {"expr": "datum.rank===3 ? 288 : 331"}, "thetaOffset": {"expr": "datum.rank===4 ? 0.058 : 0"}, "font": "Liberation Sans", "fontSize": 43, "fill": "black"},
"encoding": {"text": {"field": "label", "type": "nominal"}}}
]
}
